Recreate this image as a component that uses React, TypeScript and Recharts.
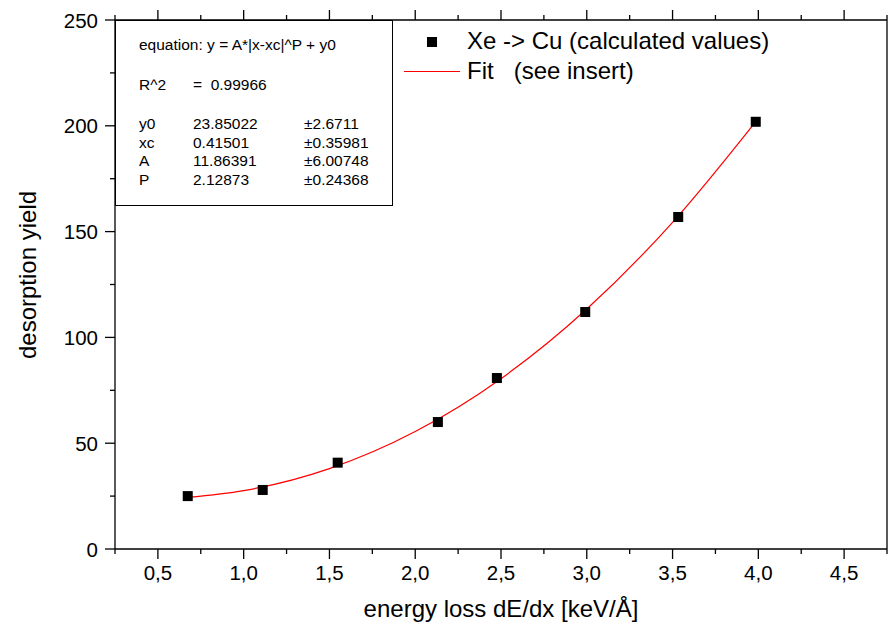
import { ComposedChart, Line, Scatter, XAxis, YAxis, Label, ReferenceLine } from "recharts";

// ---------------------------------------------------------------------------
// Data
// ---------------------------------------------------------------------------

const pointX = [0.674, 1.111, 1.548, 2.132, 2.476, 2.991, 3.533, 3.985];
const pointY = [25.0, 27.9, 40.8, 60.0, 80.8, 112.0, 156.9, 201.9];

const fitX = [0.674, 1.0, 1.5, 2.0, 2.5, 3.0, 3.5, 3.985];
const fitY = [24.4, 27.6, 38.0, 55.5, 80.5, 113.4, 154.4, 202.0];

const xTicks = [
  0.25, 0.5, 0.75, 1.0, 1.25, 1.5, 1.75, 2.0, 2.25, 2.5, 2.75, 3.0, 3.25, 3.5,
  3.75, 4.0, 4.25, 4.5, 4.75,
];
const yTicks = [0, 25, 50, 75, 100, 125, 150, 175, 200, 225, 250];

const fitRows = [
  ["y0", "23.85022", "\u00b12.6711"],
  ["xc", "0.41501", "\u00b10.35981"],
  ["A", "11.86391", "\u00b16.00748"],
  ["P", "2.12873", "\u00b10.24368"],
];

const points = pointX.map((x, i) => ({ x, y: pointY[i] }));
const fit = fitX.map((x, i) => ({ x, y: fitY[i] }));

const FONT = "'Liberation Sans', Arial, sans-serif";
const AXIS_STROKE = 1.3;

const isMajorX = (v: number) => Math.abs(v * 2 - Math.round(v * 2)) < 1e-6;
const fmtX = (v: number) => v.toFixed(1).replace(".", ",");

// ---------------------------------------------------------------------------
// Tick renderers (major + minor ticks, outward)
// ---------------------------------------------------------------------------

function BottomTick({ x, y, payload }: any) {
  const major = isMajorX(payload.value);
  return (
    <g>
      <line x1={x} x2={x} y1={y} y2={y + (major ? 10 : 5)} stroke="#000" strokeWidth={AXIS_STROKE} />
      {major && (
        <text x={x} y={y + 31} textAnchor="middle" fontSize={20.5} fontFamily={FONT} fill="#000">
          {fmtX(payload.value)}
        </text>
      )}
    </g>
  );
}

function LeftTick({ x, y, payload }: any) {
  const major = payload.value % 50 === 0;
  return (
    <g>
      <line x1={x - (major ? 10 : 5)} x2={x} y1={y} y2={y} stroke="#000" strokeWidth={AXIS_STROKE} />
      {major && (
        <text x={x - 17} y={y + 7.5} textAnchor="end" fontSize={20.5} fontFamily={FONT} fill="#000">
          {payload.value}
        </text>
      )}
    </g>
  );
}

// short outward tick on the top frame edge, drawn from a vertical reference line's endpoints
const topTickShape = (v: number) => (p: any) => {
  const top = Math.min(p.y1, p.y2);
  return (
    <line
      x1={p.x1}
      x2={p.x1}
      y1={top - (isMajorX(v) ? 10 : 5)}
      y2={top}
      stroke="#000"
      strokeWidth={AXIS_STROKE}
    />
  );
};

const Square = ({ cx, cy }: any) => <rect x={cx - 5} y={cy - 5} width={10} height={10} fill="#000" />;

const YTitle = () => (
  <text
    x={27}
    y={275}
    transform="rotate(-90 27 275)"
    textAnchor="middle"
    dominantBaseline="central"
    fontSize={24}
    fontFamily={FONT}
    fill="#000"
  >
    desorption yield
  </text>
);

// ---------------------------------------------------------------------------
// Component
// ---------------------------------------------------------------------------

export default function App() {
  return (
    <div style={{ position: "absolute", left: 0, top: 0, width: 889, height: 641 }}>
      <ComposedChart width={889} height={641} margin={{ top: 20, right: 0, bottom: 0, left: 0 }}>
        <XAxis
          xAxisId="bottom"
          dataKey="x"
          type="number"
          domain={[0.25, 4.75]}
          ticks={xTicks}
          height={92}
          tickSize={0}
          tickMargin={0}
          tickLine={false}
          tick={<BottomTick />}
          interval={0}
          axisLine={{ stroke: "#000", strokeWidth: AXIS_STROKE }}
        >
          <Label
            value="energy loss dE/dx [keV/Å]"
            position="insideBottom"
            offset={24}
            style={{ fontSize: 24, fontFamily: FONT, fill: "#000" }}
          />
        </XAxis>
        <YAxis
          yAxisId="left"
          type="number"
          domain={[0, 250]}
          ticks={yTicks}
          width={115}
          tickSize={0}
          tickMargin={0}
          tickLine={false}
          tick={<LeftTick />}
          interval={0}
          axisLine={{ stroke: "#000", strokeWidth: AXIS_STROKE }}
        >
          <Label content={<YTitle />} />
        </YAxis>
        <YAxis
          yAxisId="right"
          orientation="right"
          type="number"
          domain={[0, 250]}
          width={2}
          tick={false}
          tickLine={false}
          axisLine={{ stroke: "#000", strokeWidth: AXIS_STROKE }}
        />
        {/* top frame edge */}
        <ReferenceLine
          xAxisId="bottom"
          yAxisId="left"
          y={250}
          stroke="#000"
          strokeWidth={AXIS_STROKE}
        />
        {xTicks.map((v) => (
          <ReferenceLine
            key={v}
            xAxisId="bottom"
            yAxisId="left"
            x={v}
            stroke="#000"
            shape={topTickShape(v)}
          />
        ))}
        <Line
          xAxisId="bottom"
          yAxisId="left"
          data={fit}
          dataKey="y"
          type="monotone"
          stroke="#ff0000"
          strokeWidth={1.2}
          dot={false}
          activeDot={false}
          isAnimationActive={false}
        />
        <Scatter
          xAxisId="bottom"
          yAxisId="left"
          data={points}
          dataKey="y"
          shape={<Square />}
          isAnimationActive={false}
        />
      </ComposedChart>

      {/* fit parameter insert */}
      <div
        style={{
          position: "absolute",
          left: 115,
          top: 20,
          width: 278,
          height: 186,
          boxSizing: "border-box",
          border: "1.3px solid #000",
          fontFamily: FONT,
          fontSize: 15.5,
          color: "#000",
          background: "#fff",
        }}
      >
        <div style={{ position: "absolute", left: 23, top: 15, whiteSpace: "pre" }}>
          equation: y = A*|x-xc|^P + y0
        </div>
        <div style={{ position: "absolute", left: 23, top: 55, whiteSpace: "pre" }}>R^2</div>
        <div style={{ position: "absolute", left: 77, top: 55, whiteSpace: "pre" }}>=  0.99966</div>
        {fitRows.map((r, i) => (
          <div key={r[0]} style={{ position: "absolute", top: 94 + i * 18.7, left: 0, whiteSpace: "pre" }}>
            <span style={{ position: "absolute", left: 23 }}>{r[0]}</span>
            <span style={{ position: "absolute", left: 77 }}>{r[1]}</span>
            <span style={{ position: "absolute", left: 188 }}>{r[2]}</span>
          </div>
        ))}
      </div>

      {/* legend */}
      <div style={{ position: "absolute", left: 0, top: 0, fontFamily: FONT, fontSize: 24, color: "#000" }}>
        <div style={{ position: "absolute", left: 427, top: 37, width: 10, height: 10, background: "#000" }} />
        <div style={{ position: "absolute", left: 467, top: 27, whiteSpace: "pre" }}>
          Xe -&gt; Cu (calculated values)
        </div>
        <div style={{ position: "absolute", left: 404, top: 71, width: 56, height: 1.2, background: "#ff0000" }} />
        <div style={{ position: "absolute", left: 467, top: 57, whiteSpace: "pre" }}>Fit   (see insert)</div>
      </div>
    </div>
  );
}
